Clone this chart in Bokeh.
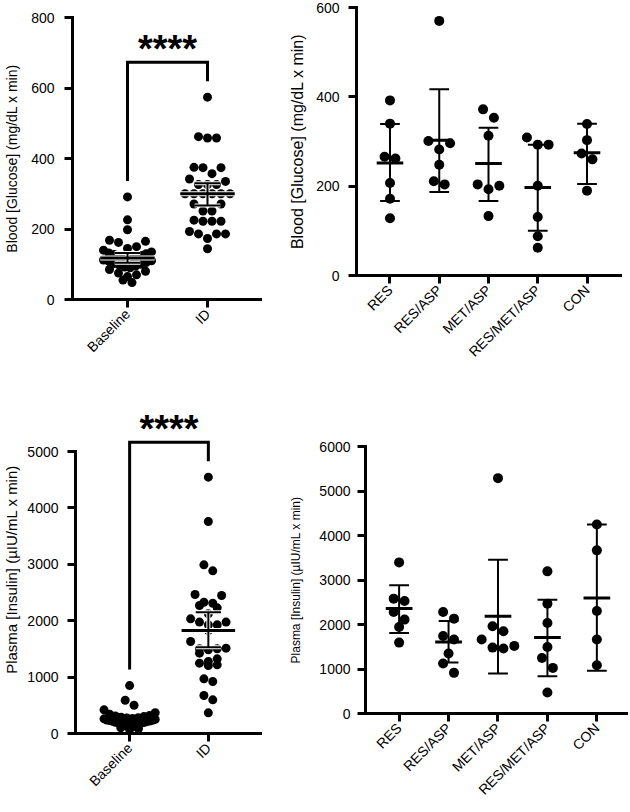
import math
from bokeh.plotting import figure
from bokeh.models import FixedTicker, Range1d, ColumnDataSource
from bokeh.layouts import row, column
from bokeh.embed import file_html
from bokeh.resources import INLINE
from bokeh.core.properties import value

FONT = "Liberation Sans"

# ---------------- data ----------------
pair_cats = ["Baseline", "ID"]
sig_label = "****"

glucose_baseline = [291, 226, 198, 168, 165, 162, 150, 145, 140, 135, 132, 130,
                    128, 125, 122, 120, 118, 115, 112, 110, 108, 105, 102, 100,
                    98, 95, 92, 90, 85, 80, 75, 70, 65, 55, 48]
glucose_id = [574, 462, 458, 458, 375, 374, 374, 357, 342, 335, 326, 326, 326,
              300, 300, 300, 300, 300, 300, 271, 271, 251, 251, 225, 222, 222,
              222, 193, 186, 186, 186, 173, 144]
glucose_pair_center = [118, 300]
glucose_pair_lo = [104, 267]
glucose_pair_hi = [132, 330]

insulin_baseline = [850, 590, 500, 420, 370, 340, 320, 310, 300, 290, 280, 275,
                    265, 260, 250, 240, 235, 230, 220, 215, 210, 200, 195, 190,
                    180, 170, 160, 150, 140, 130, 120, 110, 100, 85, 70]
insulin_id = [4545, 3759, 2990, 2884, 2465, 2447, 2328, 2310, 2269, 2228, 2122,
              2033, 1975, 1975, 1927, 1927, 1826, 1631, 1513, 1501, 1501, 1483,
              1424, 1324, 1277, 1247, 1217, 1206, 969, 922, 674, 597, 366]
insulin_pair_center = [245, 1826]
insulin_pair_lo = [205, 1530]
insulin_pair_hi = [290, 2151]

group_cats = ["RES", "RES/ASP", "MET/ASP", "RES/MET/ASP", "CON"]
glucose_groups = [
    [392, 340, 266, 262, 207, 172, 128],
    [570, 301, 296, 282, 248, 211, 204],
    [372, 353, 313, 204, 201, 193, 133],
    [309, 293, 293, 201, 131, 88, 62],
    [339, 303, 273, 260, 190],
]
glucose_group_mean = [252, 303, 251, 197, 275]
glucose_group_lo = [167, 187, 167, 100, 205]
glucose_group_hi = [339, 417, 331, 293, 340]

insulin_groups = [
    [3396, 2581, 2529, 2282, 2110, 1945, 1593],
    [2282, 2132, 1743, 1661, 1347, 1122, 913],
    [5289, 1960, 1848, 1661, 1519, 1481, 1459],
    [3194, 2469, 2035, 1496, 1249, 1025, 471],
    [4249, 3666, 2304, 1661, 1085],
]
insulin_group_mean = [2357, 1608, 2184, 1706, 2596]
insulin_group_lo = [1810, 1145, 898, 838, 958]
insulin_group_hi = [2880, 2080, 3456, 2558, 4249]

glucose_label = "Blood [Glucose] (mg/dL x min)"
insulin_label = "Plasma [Insulin] (\u00b5IU/mL x min)"


# ---------------- helpers ----------------
def swarm(vals, sy, sx, dot_px, step_px, max_half_px):
    """Row-based dot-plot layout (Prism-like). Returns x offsets in data units."""
    order = sorted(range(len(vals)), key=lambda i: -vals[i])
    tol = dot_px / sy
    rows, cur = [], []
    for i in order:
        if cur and vals[cur[0]] - vals[i] > tol:
            rows.append(cur)
            cur = []
        cur.append(i)
    if cur:
        rows.append(cur)
    offs = [0.0] * len(vals)
    for r in rows:
        n = len(r)
        step = step_px
        if n > 1 and (n - 1) * step / 2 > max_half_px:
            step = 2 * max_half_px / (n - 1)
        slots = [(k - (n - 1) / 2) * step for k in range(n)]
        slot_order = sorted(range(n), key=lambda k: (-abs(slots[k]), slots[k]))
        for idx, k in zip(r, slot_order):
            offs[idx] = slots[k] / sx
    return offs


def make_fig(width, height, bl, br, bt, bb, xr, yr, cats, yticks, ybounds,
             ylabel, ylabel_size, lab_standoff, axlab_standoff):
    p = figure(width=width, height=height, x_range=Range1d(*xr), y_range=Range1d(*yr),
               output_backend="svg", toolbar_location=None, tools="", title=None,
               min_border_left=bl, min_border_right=br, min_border_top=bt,
               min_border_bottom=bb)
    p.outline_line_color = None
    p.xgrid.visible = False
    p.ygrid.visible = False
    p.background_fill_color = "white"
    p.border_fill_color = "white"
    xa = p.xaxis[0]
    ya = p.yaxis[0]
    for ax in (xa, ya):
        ax.axis_line_width = 3
        ax.axis_line_color = "black"
        ax.axis_line_cap = "square"
        ax.major_tick_line_width = 3
        ax.major_tick_line_color = "black"
        ax.major_tick_in = 0
        ax.major_tick_out = 8
        ax.minor_tick_line_color = None
        ax.major_label_text_font = FONT
        ax.major_label_text_font_size = "14px"
        ax.major_label_text_color = "black"
    xa.ticker = FixedTicker(ticks=list(range(len(cats))))
    xa.major_label_overrides = {i: c for i, c in enumerate(cats)}
    xa.major_label_orientation = math.pi / 4
    xa.major_label_standoff = 4
    ya.ticker = FixedTicker(ticks=yticks)
    ya.bounds = ybounds
    ya.major_label_standoff = lab_standoff
    ya.axis_label = ylabel
    ya.axis_label_text_font = FONT
    ya.axis_label_text_font_size = ylabel_size
    ya.axis_label_text_font_style = "normal"
    ya.axis_label_text_color = "black"
    ya.axis_label_standoff = axlab_standoff
    return p


def bar_segments(idx, center, lo, hi, mean_hw, cap_hw):
    segs = dict(x0=[], x1=[], y0=[], y1=[])
    mean = dict(x0=[], x1=[], y0=[], y1=[])
    for i in idx:
        segs["x0"] += [i, i - cap_hw, i - cap_hw]
        segs["x1"] += [i, i + cap_hw, i + cap_hw]
        segs["y0"] += [lo[i], lo[i], hi[i]]
        segs["y1"] += [hi[i], lo[i], hi[i]]
        mean["x0"].append(i - mean_hw)
        mean["x1"].append(i + mean_hw)
        mean["y0"].append(center[i])
        mean["y1"].append(center[i])
    return segs, mean


def add_errbars(p, center, lo, hi, mean_hw, cap_hw, mean_w, err_w, halo):
    n = len(center)
    halo_idx = [i for i in range(n) if halo[i]]
    if halo_idx:
        hs, hm = bar_segments(halo_idx, center, lo, hi, mean_hw, cap_hw)
        p.segment(source=ColumnDataSource(hs), x0="x0", x1="x1", y0="y0", y1="y1",
                  line_color="white", line_width=err_w + 2)
        p.segment(source=ColumnDataSource(hm), x0="x0", x1="x1", y0="y0", y1="y1",
                  line_color="white", line_width=mean_w + 2)
    segs, mean = bar_segments(range(n), center, lo, hi, mean_hw, cap_hw)
    p.segment(source=ColumnDataSource(segs), x0="x0", x1="x1", y0="y0", y1="y1",
              line_color="black", line_width=err_w)
    p.segment(source=ColumnDataSource(mean), x0="x0", x1="x1", y0="y0", y1="y1",
              line_color="black", line_width=mean_w)


def add_dots(p, groups, sy, sx, dot_px, step_px, max_half_px):
    xs, ys = [], []
    for gi, vals in enumerate(groups):
        offs = swarm(vals, sy, sx, dot_px, step_px, max_half_px)
        xs += [gi + o for o in offs]
        ys += list(vals)
    p.scatter(x=xs, y=ys, size=dot_px, fill_color="black", line_color=None)


def add_bracket(p, groups, sy):
    gap = 16 / sy
    top = max(max(v) for v in groups) + 35 / sy
    l0 = max(groups[0]) + gap
    l1 = max(groups[1]) + gap
    p.line(x=[0, 0, 1, 1], y=[l0, top, top, l1], line_width=3, line_color="black",
           line_join="miter")
    p.text(x=[0.5], y=[top + 13 / sy], text=[sig_label], text_font=value(FONT),
           text_font_size="38px", text_font_style="bold", text_align="center",
           text_baseline="alphabetic", text_color="black")


# ---------------- panels ----------------
LX = (-0.6875, 1.6625)          # 80 px per category over a 188 px frame

# top-left: frame x 72..260, y 17..299
p1 = make_fig(286, 400, 72, 26, 17, 101, LX, (0, 800), pair_cats,
              [0, 200, 400, 600, 800], (0, 800), glucose_label, "14px", 10, 8)
sy1 = 282 / 800.0
add_dots(p1, [glucose_baseline, glucose_id], sy1, 80.0, 9, 9, 24)
add_errbars(p1, glucose_pair_center, glucose_pair_lo, glucose_pair_hi,
            0.34, 0.16, 3, 2, [True, True])
add_bracket(p1, [glucose_baseline, glucose_id], sy1)

# top-right: frame x 352..620, y 7..275
p2 = make_fig(342, 400, 66, 8, 7, 125, (-0.68, 4.68), (0, 600), group_cats,
              [0, 200, 400, 600], (0, 600), glucose_label, "16px", 9, 7)
sy2 = 268 / 600.0
add_errbars(p2, glucose_group_mean, glucose_group_lo, glucose_group_hi,
            0.27, 0.2, 3, 2, [False] * 5)
add_dots(p2, glucose_groups, sy2, 50.0, 10, 11, 30)

# bottom-left: frame x 72..260, y 405..733
p3_top = 5000 * 328 / 282.0
p3 = make_fig(286, 410, 72, 26, 5, 77, LX, (0, p3_top), pair_cats,
              [0, 1000, 2000, 3000, 4000, 5000], (0, 5000), insulin_label, "15px", 9, 4)
sy3 = 328 / p3_top
add_dots(p3, [insulin_baseline, insulin_id], sy3, 80.0, 9, 9, 26)
add_errbars(p3, insulin_pair_center, insulin_pair_lo, insulin_pair_hi,
            0.34, 0.16, 3, 2, [False, True])
add_bracket(p3, [insulin_baseline, insulin_id], sy3)

# bottom-right: frame x 362..628, y 446..713
p4 = make_fig(342, 410, 76, 0, 46, 97, (-0.68, 4.64), (0, 6000), group_cats,
              [0, 1000, 2000, 3000, 4000, 5000, 6000], (0, 6000), insulin_label,
              "12px", 7, 13)
sy4 = 267 / 6000.0
add_errbars(p4, insulin_group_mean, insulin_group_lo, insulin_group_hi,
            0.27, 0.2, 3, 2, [False] * 5)
add_dots(p4, insulin_groups, sy4, 50.0, 10, 11, 30)

layout = column(row(column(p1), column(p2)), row(column(p3), column(p4)))
open("out.html", "w").write(file_html(layout, INLINE))
